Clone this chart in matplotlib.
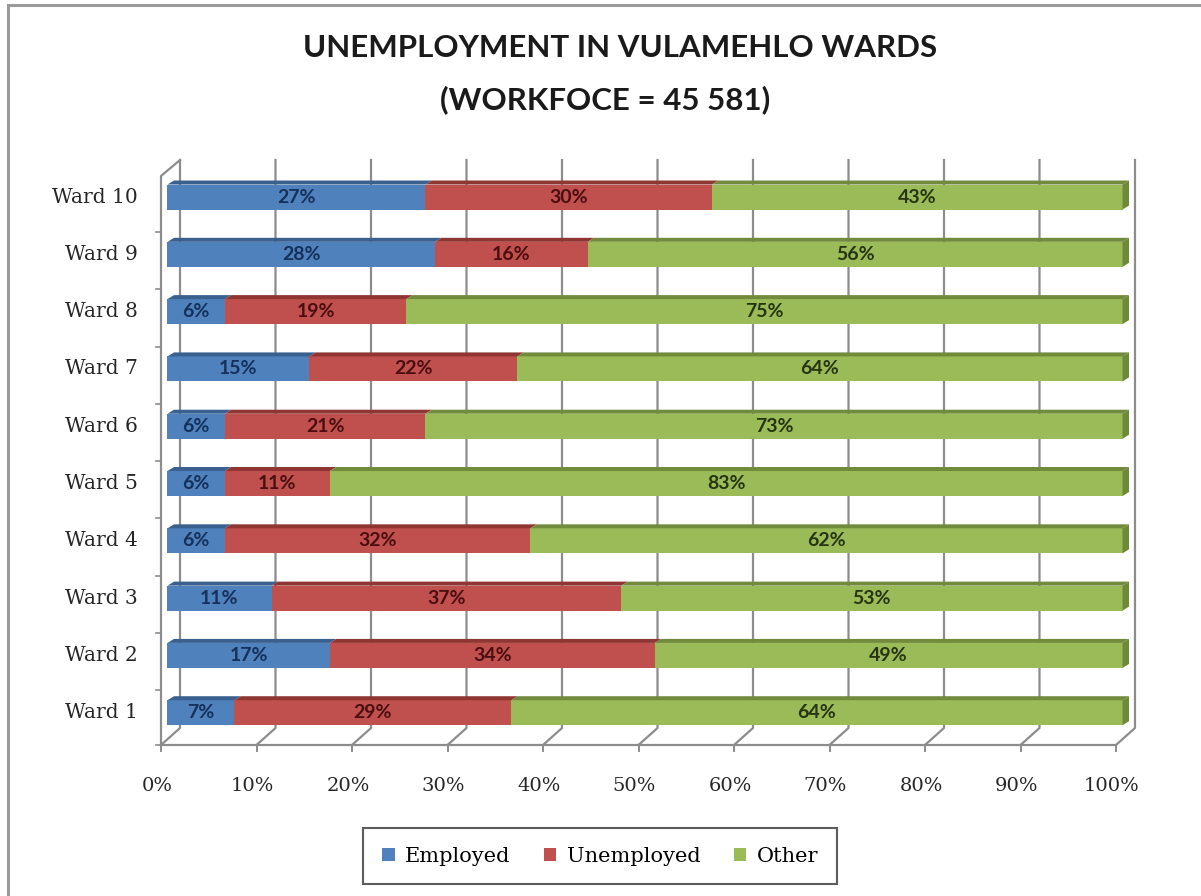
import numpy as np
import matplotlib.pyplot as plt
from matplotlib.patches import Polygon, Patch
from matplotlib.lines import Line2D

# ---- data ----
wards = ["Ward 1", "Ward 2", "Ward 3", "Ward 4", "Ward 5",
         "Ward 6", "Ward 7", "Ward 8", "Ward 9", "Ward 10"]
employed = [7, 17, 11, 6, 6, 6, 15, 6, 28, 27]
unemployed = [29, 34, 37, 32, 11, 21, 22, 19, 16, 30]
other = [64, 49, 53, 62, 83, 73, 64, 75, 56, 43]
series_names = ["Employed", "Unemployed", "Other"]
ticks = np.arange(0, 101, 10)

face = ["#4F81BD", "#C0504D", "#9BBB59"]
topc = ["#39608f", "#8f3532", "#718a3c"]
textc = ["#15305a", "#4a0e10", "#263410"]
capc = "#6c8a37"

W, H = 1201, 896
fig = plt.figure(figsize=(W / 100, H / 100), dpi=100)

# frame around the chart
fig.add_artist(Line2D([8 / W, 8 / W], [0, 1 - 5 / H], color="#9a9a9a", lw=2.2))
fig.add_artist(Line2D([8 / W, 1], [1 - 5 / H, 1 - 5 / H], color="#9a9a9a", lw=2.2))

# axes: x 0..100 maps to floor front edge, y = category index
x0, x1 = 161, 1116
yf, yt = 745, 160
ax = fig.add_axes([x0 / W, 1 - yf / H, (x1 - x0) / W, (yf - yt) / H])
pxx = (x1 - x0) / 100.0
pxy = 57.3
ylo = -(yf - 711) / pxy
yhi = (711 - yt) / pxy
ax.set_xlim(0, 100)
ax.set_ylim(ylo, yhi)
ax.axis("off")

# 3D wall offsets
dx = 19 / pxx
dy = 17 / pxy
yb = ylo + dy
gcol = "#8c8c8c"
for t in ticks:
    ax.plot([t, t + dx, t + dx], [ylo, yb, yhi], color=gcol, lw=1.6,
            clip_on=False, zorder=1)
    ax.plot([t, t], [ylo, ylo - 6 / pxy], color=gcol, lw=1.4, clip_on=False)
ax.plot([0, 100], [ylo, ylo], color=gcol, lw=1.6, clip_on=False)
# left wall front edge
ax.plot([0, 0, dx], [ylo, yhi - 16 / pxy, yhi], color=gcol, lw=1.6, clip_on=False)
for i in range(len(wards)):
    yy = i + 0.5 - 8 / pxy
    if yy < yhi - 0.3:
        ax.plot([0, -5 / pxx], [yy, yy], color=gcol, lw=1.2, clip_on=False)
ax.plot([0, -5 / pxx], [ylo, ylo], color=gcol, lw=1.2, clip_on=False)

# bars (100% stacked: each ward scaled to its own total)
raw = np.array([employed, unemployed, other], dtype=float)
share = raw / raw.sum(axis=0) * 100
y = np.arange(len(wards))
off = 6.5 / pxx
bh = 25 / pxy
yc = y - 0.03
depx, depy = 6.5 / pxx, 4 / pxy
left = np.zeros(len(wards))
for k in range(3):
    vals = share[k]
    ax.barh(yc, vals, height=bh, left=left + off, color=face[k],
            edgecolor="none", zorder=3, clip_on=False)
    for i in range(len(wards)):
        xa, xb = left[i] + off, left[i] + vals[i] + off
        ytop = yc[i] + bh / 2
        ax.add_patch(Polygon([[xa, ytop], [xb, ytop], [xb + depx, ytop + depy],
                              [xa + depx, ytop + depy]], closed=True,
                             facecolor=topc[k], edgecolor="none", zorder=3,
                             clip_on=False))
        if k == 2:
            ybot = yc[i] - bh / 2
            ax.add_patch(Polygon([[xb, ybot], [xb, ytop], [xb + depx, ytop + depy],
                                  [xb + depx, ybot + depy]], closed=True,
                                 facecolor=capc, edgecolor="none", zorder=3,
                                 clip_on=False))
        ax.text(left[i] + vals[i] / 2 + off, yc[i], f"{int(raw[k][i])}%",
                ha="center", va="center", fontsize=14, fontweight="bold",
                family="Lato", color=textc[k], zorder=4)
    left = left + vals

# category labels
for i, w in enumerate(wards):
    ax.text(-23 / pxx, yc[i], w, ha="right", va="center", fontsize=14.5,
            family="DejaVu Serif", color="#262626")

# x tick labels
for t in ticks:
    ax.text(t - 4 / pxx, ylo - 41 / pxy, f"{t}%", ha="center", va="center",
            fontsize=14, family="DejaVu Serif", color="#262626")

# title
fig.text(620 / W, 1 - 48 / H, "UNEMPLOYMENT IN VULAMEHLO WARDS", ha="center",
         va="center", fontsize=22.5, family="Lato", fontweight="bold", color="#1a1a1a")
fig.text(605 / W, 1 - 100 / H, "(WORKFOCE = 45 581)", ha="center",
         va="center", fontsize=22.5, family="Lato", fontweight="bold", color="#1a1a1a")

# legend
handles = [Patch(facecolor=face[k], edgecolor="none", label=series_names[k])
           for k in range(3)]
leg = fig.legend(handles=handles, loc="center", bbox_to_anchor=(600 / W, 1 - 856 / H),
                 ncol=3, frameon=True, fancybox=False, handlelength=0.6,
                 handleheight=0.6, handletextpad=0.5, columnspacing=1.6,
                 borderpad=0.9, borderaxespad=0, prop={"family": "DejaVu Serif", "size": 15})
leg.get_frame().set_edgecolor("#333333")
leg.get_frame().set_linewidth(1.5)

fig.savefig("out.png", dpi=100)
